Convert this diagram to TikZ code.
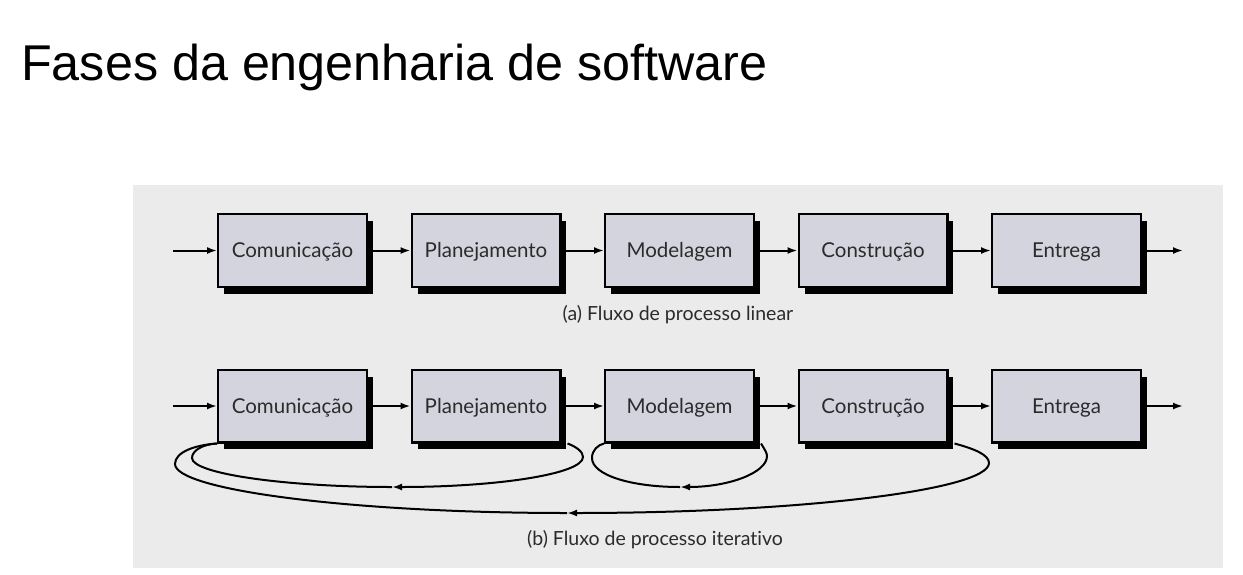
\documentclass[tikz,border=0pt]{standalone}
\usepackage{fontspec}
\setmainfont{Liberation Sans}
\newfontfamily\labfont[Ligatures=NoCommon]{Lato}
\usetikzlibrary{arrows.meta,shadows}
\definecolor{panel}{HTML}{EBEBEB}
\definecolor{boxfill}{HTML}{D4D4DE}
\definecolor{txt}{HTML}{2B2B2B}
\begin{document}
\begin{tikzpicture}[x=1pt,y=-1pt,
  phase/.style={draw=black, line width=2.4pt, fill=boxfill, minimum width=148.6pt,
    minimum height=72.6pt, inner sep=0pt, font=\labfont\fontsize{20.5}{23}\selectfont, text=txt,
    text height=16pt, text depth=2pt,
    drop shadow={shadow xshift=6pt, shadow yshift=-7pt, fill=black, opacity=1}},
  flow/.style={line width=2pt, -{Latex[length=10pt,width=7pt]}},
  loopline/.style={line width=2pt},
  looparrow/.style={line width=2pt, -{Latex[length=10pt,width=7pt]}},
  caption/.style={font=\labfont\fontsize{19.5}{22}\selectfont, text=txt}]
\useasboundingbox (0,0) rectangle (1243,574);
\fill[white] (0,0) rectangle (1243,574);
\node[anchor=base west, inner sep=0pt, font=\fontsize{50.3}{60}\selectfont] (title) at (21,80) {Fases da engenharia de software};
\fill[panel] (133,185) rectangle (1223,568);
% row a
\node[phase] (a1) at (292.5,250.5) {Comunicação};
\node[phase] (a2) at (486,250.5) {Planejamento};
\node[phase] (a3) at (679.5,250.5) {Modelagem};
\node[phase] (a4) at (873,250.5) {Construção};
\node[phase] (a5) at (1066.5,250.5) {Entrega};
\coordinate (ina) at (173,250.5);
\coordinate (outa) at (1183,250.5);
\draw[flow] (ina) -- (a1);
\draw[flow] (a1) -- (a2);
\draw[flow] (a2) -- (a3);
\draw[flow] (a3) -- (a4);
\draw[flow] (a4) -- (a5);
\draw[flow] (a5) -- (outa);
\node[caption] (capa) at (678,315) {(a) Fluxo de processo linear};
% row b
\node[phase] (b1) at (292.5,406) {Comunicação};
\node[phase] (b2) at (486,406) {Planejamento};
\node[phase] (b3) at (679.5,406) {Modelagem};
\node[phase] (b4) at (873,406) {Construção};
\node[phase] (b5) at (1066.5,406) {Entrega};
\coordinate (inb) at (173,406);
\coordinate (outb) at (1183,406);
\draw[flow] (inb) -- (b1);
\draw[flow] (b1) -- (b2);
\draw[flow] (b2) -- (b3);
\draw[flow] (b3) -- (b4);
\draw[flow] (b4) -- (b5);
\draw[flow] (b5) -- (outb);
% loops
\coordinate (m1) at (392,487);
\coordinate (m2) at (567,513);
\coordinate (m3) at (680,487);
\draw[looparrow] ([xshift=6pt]b2.south east) .. controls (577,447) and (583,452) .. (583,457)
  .. controls (583,474) and (497,487) .. (m1);
\draw[loopline] (m1) .. controls (288,487) and (192,474) .. (192,458)
  .. controls (192,450) and (204,444) .. (b1.south west);
\draw[looparrow] ([xshift=6pt]b4.south east) .. controls (975,449) and (989,455) .. (989,463)
  .. controls (989,490) and (799,513) .. (m2);
\draw[loopline] (m2) .. controls (352,513) and (175,490) .. (175,464)
  .. controls (175,452) and (195,445) .. (b1.south west);
\draw[looparrow] ([xshift=6pt]b3.south east) .. controls (765,450) and (767,453) .. (767,456)
  .. controls (767,473) and (728,487) .. (m3);
\draw[loopline] (m3) .. controls (631,487) and (592,475) .. (592,458)
  .. controls (592,450) and (598,445) .. (b3.south west);
\node[caption] (capb) at (655,540) {(b) Fluxo de processo iterativo};
\end{tikzpicture}
\end{document}
